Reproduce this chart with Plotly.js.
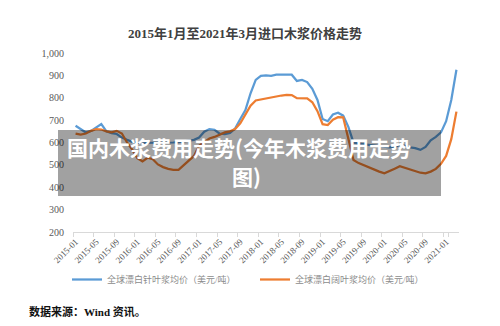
<!DOCTYPE html>
<html>
<head>
<meta charset="utf-8">
<script src="https://cdn.plot.ly/plotly-3.0.1.min.js"></script>
<style>html,body{margin:0;padding:0;background:#fff;}#chart{width:500px;height:326px;}</style>
</head>
<body>
<div id="chart"></div>
<script>
var months = [
"2015-01","2015-02","2015-03","2015-04","2015-05","2015-06","2015-07","2015-08","2015-09","2015-10","2015-11","2015-12",
"2016-01","2016-02","2016-03","2016-04","2016-05","2016-06","2016-07","2016-08","2016-09","2016-10","2016-11","2016-12",
"2017-01","2017-02","2017-03","2017-04","2017-05","2017-06","2017-07","2017-08","2017-09","2017-10","2017-11","2017-12",
"2018-01","2018-02","2018-03","2018-04","2018-05","2018-06","2018-07","2018-08","2018-09","2018-10","2018-11","2018-12",
"2019-01","2019-02","2019-03","2019-04","2019-05","2019-06","2019-07","2019-08","2019-09","2019-10","2019-11","2019-12",
"2020-01","2020-02","2020-03","2020-04","2020-05","2020-06","2020-07","2020-08","2020-09","2020-10","2020-11","2020-12",
"2021-01","2021-02","2021-03"];

var softwood = [
675,660,645,652,668,682,650,642,638,622,612,603,
598,598,597,597,598,598,600,600,602,605,606,612,
622,648,660,657,640,638,643,662,705,745,820,880,
898,900,898,903,903,903,903,875,880,870,840,790,
705,695,725,733,720,670,600,595,592,590,589,585,
582,578,580,589,585,578,575,567,580,610,625,645,
695,790,925];

var hardwood = [
640,635,640,652,660,658,650,645,652,640,600,568,
530,516,532,525,502,490,482,478,478,498,518,540,
585,600,618,625,635,645,650,660,686,725,765,788,
793,796,800,806,810,813,812,798,797,797,780,740,
682,678,702,713,712,610,522,508,498,488,477,470,
462,474,483,494,486,478,470,465,462,470,482,505,
540,615,738];

var tickLabels = ["2015-01","2015-05","2015-09","2016-01","2016-05","2016-09","2017-01","2017-05","2017-09",
"2018-01","2018-05","2018-09","2019-01","2019-05","2019-09","2020-01","2020-05","2020-09","2021-01"];
var yTicks = [200,300,400,500,600,700,800,900,1000];

var seriesNames = ["全球漂白针叶浆均价（美元/吨）","全球漂白阔叶浆均价（美元/吨）"];
var titleText = "2015年1月至2021年3月进口木浆价格走势";
var sourceText = "数据来源：Wind 资讯。";
var overlayLine1 = "国内木浆费用走势(今年木浆费用走势";
var overlayLine2 = "图)";

var W = 500, H = 326;
var M = {l: 73, r: 41, t: 53, b: 94};
var pw = W - M.l - M.r, ph = H - M.t - M.b;
function px(x){ return (x - M.l) / pw; }
function py(y){ return (H - M.b - y) / ph; }

var serif = "'Liberation Serif', 'Times New Roman', 'Noto Sans CJK SC', serif";
var cjk = "'Noto Sans CJK SC', sans-serif";

var traces = [
  {x: months, y: softwood, type: 'scatter', mode: 'lines', name: seriesNames[0],
   line: {color: '#5b9bd5', width: 2.25}},
  {x: months, y: hardwood, type: 'scatter', mode: 'lines', name: seriesNames[1],
   line: {color: '#ed7d31', width: 2.25}}
];

var layout = {
  width: W, height: H,
  margin: M,
  paper_bgcolor: '#ffffff', plot_bgcolor: '#ffffff',
  title: {text: '<b>' + titleText + '</b>', x: 0.49, xref: 'container', xanchor: 'center',
          y: 1 - 33/H, yref: 'container', yanchor: 'middle',
          font: {family: serif, size: 13, color: '#404040'}},
  xaxis: {type: 'category', range: [-0.5, months.length - 0.5],
          tickmode: 'array', tickvals: tickLabels, ticktext: tickLabels,
          tickson: 'boundaries', ticks: 'outside', ticklen: 4, tickcolor: '#d9d9d9',
          tickangle: -45, showgrid: false, zeroline: false,
          showline: true, linecolor: '#d9d9d9', linewidth: 1,
          tickfont: {family: serif, size: 9, color: '#595959'}},
  yaxis: {range: [200, 1000], tickmode: 'array', tickvals: yTicks, tickformat: ',',
          showgrid: false, zeroline: false, showline: false, ticks: '',
          ticklabelstandoff: 8,
          tickfont: {family: serif, size: 10, color: '#595959'}},
  showlegend: true,
  legend: {orientation: 'h', x: px(67), xanchor: 'left', y: py(279.5), yanchor: 'middle',
           entrywidth: 143, entrywidthmode: 'pixels', itemwidth: 30,
           font: {family: serif, size: 9, color: '#8c8c8c'}, bgcolor: 'rgba(0,0,0,0)'},
  shapes: [
    {type: 'rect', xref: 'paper', yref: 'paper', x0: px(58), x1: px(441), y0: py(196), y1: py(130),
     fillcolor: 'rgba(0,0,0,0.37)', line: {width: 0}, layer: 'above'}
  ],
  annotations: [
    {xref: 'paper', yref: 'paper', x: px(239), y: py(147), xanchor: 'center', yanchor: 'middle',
     text: overlayLine1, showarrow: false,
     font: {family: cjk, size: 21, color: '#ffffff', weight: 'bold'}},
    {xref: 'paper', yref: 'paper', x: px(246), y: py(176), xanchor: 'center', yanchor: 'middle',
     text: overlayLine2, showarrow: false,
     font: {family: cjk, size: 21, color: '#ffffff', weight: 'bold'}},
    {xref: 'paper', yref: 'paper', x: px(27), y: py(311.5), xanchor: 'left', yanchor: 'middle',
     text: '<b>' + sourceText + '</b>', showarrow: false,
     font: {family: serif, size: 11, color: '#111111'}}
  ]
};

Plotly.newPlot('chart', traces, layout, {displayModeBar: false, staticPlot: true});
</script>
</body>
</html>
